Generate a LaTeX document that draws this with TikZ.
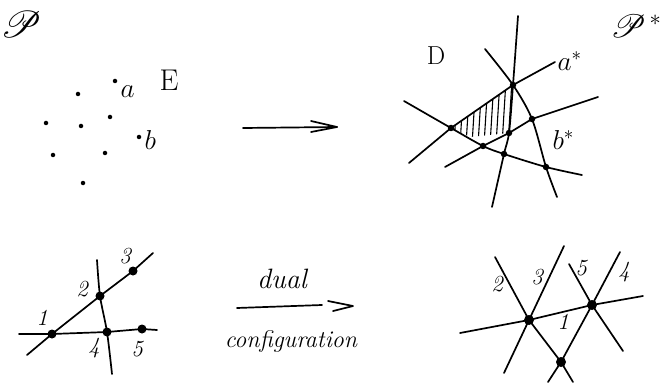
\documentclass[tikz,border=0pt]{standalone}
\usepackage{fontspec}
\usepackage{graphicx}
\usepackage{mathrsfs}
\begin{document}
\begin{tikzpicture}[x=1pt,y=-1pt,line cap=round,line join=round,
  pen/.style={line width=1.7pt},
  dot/.style={circle,fill,inner sep=0pt,minimum size=5pt},
  bigdot/.style={circle,fill,inner sep=0pt,minimum size=9pt},
  hand/.style={font=\fontsize{23}{23}\selectfont\itshape},
  big/.style={font=\fontsize{26}{26}\selectfont}]
  \useasboundingbox (0,0) rectangle (664,385);

  % point set E
  \node[big] (calP) at (21,24) {\scalebox{1.5}{$\mathscr{P}$}};
  \node[big,font=\fontsize{30}{30}\selectfont] (setE) at (169,80) {E};
  \foreach \x/\y [count=\i] in {115/81,78/94,46/123,81/126,110/117,139/137,53/155,105/153,83/183}
    \node[dot,minimum size=4.5pt] (e\i) at (\x,\y) {};
  \node[hand,anchor=west] (la) at (117,92) {\scalebox{1.1}{$a$}};
  \node[hand,anchor=west] (lb) at (141,140) {\scalebox{1.1}{$b$}};

  % arrow between them
  \coordinate (ta) at (243,128);
  \coordinate (tb) at (337,127);
  \draw[pen] (ta) -- (tb);
  \draw[pen] (311,121) -- (tb) -- (311,132);

  % dual arrangement
  \node[big] (calD) at (436,56) {D};
  \node[big] (calPs) at (636,26) {\scalebox{1.3}{$\mathscr{P}^{\,*}$}};
  \coordinate (A) at (451,128);
  \coordinate (T) at (513,85);
  \coordinate (R) at (532,119);
  \coordinate (M) at (509,133);
  \coordinate (L) at (483,146);
  \coordinate (N) at (504,154);
  \coordinate (S) at (546,167);
  \begin{scope}
    \clip (A) -- (T) -- (M) -- (470,137) -- cycle;
    \foreach \x in {456,462,...,516}
      \draw[line width=1.1pt] (\x+2,80) -- (\x-2,145);
  \end{scope}
  \draw[pen] plot[smooth] coordinates {(518,16) (T) (M) (N) (492,207)};
  \draw[pen] plot[smooth] coordinates {(485,49) (T) (R) (S) (557,197)};
  \draw[pen] (409,163) -- (A) -- (T) -- (555,62);
  \draw[pen] (445,167) -- (L) -- (M) -- (R) -- (598,97);
  \draw[pen] plot[smooth] coordinates {(404,101) (A) (L) (N) (S) (582,175)};
  \foreach \p in {A,T,R,M,L,N,S}
    \node[dot,minimum size=6.5pt] at (\p) {};
  \node[hand,anchor=west] (las) at (554,61) {\scalebox{1.1}{$a^{*}$}};
  \node[hand,anchor=west] (lbs) at (549,140) {\scalebox{1.1}{$b^{*}$}};

  % configuration of five points
  \node[bigdot] (p1) at (52,334) {};
  \node[bigdot] (p2) at (100,296) {};
  \node[bigdot] (p3) at (133,271) {};
  \node[bigdot] (p4) at (107,332) {};
  \node[bigdot] (p5) at (142,329) {};
  \coordinate (u1) at (27,355);
  \coordinate (u2) at (153,253);
  \coordinate (h1) at (19,334);
  \coordinate (h2) at (157,330);
  \coordinate (v1) at (97,260);
  \coordinate (v2) at (112,374);
  \draw[pen] (u1) -- (p1.center) -- (p2.center) -- (p3.center) -- (u2);
  \draw[pen] (h1) -- (p1.center) -- (p4.center) -- (p5.center) -- (h2);
  \draw[pen] plot[smooth] coordinates {(v1) (p2.center) (p4.center) (v2)};
  \node[hand] (n1) at (42,318) {1};
  \node[hand] (n2) at (82,289) {2};
  \node[hand] (n3) at (125,256) {3};
  \node[hand] (n4) at (94,348) {4};
  \node[hand] (n5) at (137,349) {5};

  % dual configuration arrow
  \node[hand,font=\fontsize{28}{28}\selectfont\itshape] (wdual) at (282,279) {dual};
  \node[hand,font=\fontsize{24}{24}\selectfont\itshape] (wconf) at (291,341) {configuration};
  \coordinate (ba) at (237,308);
  \coordinate (bb) at (322,305);
  \coordinate (bt) at (353,306);
  \draw[pen] (ba) -- (bb);
  \draw[pen] (328,301) -- (bt) -- (333,311);

  % dual of the five points
  \node[bigdot,minimum size=10pt] (q1) at (529,320) {};
  \node[bigdot,minimum size=10pt] (q2) at (592,305) {};
  \node[bigdot,minimum size=10pt] (q3) at (561,362) {};
  \coordinate (l1a) at (460,333);
  \coordinate (l1b) at (643,296);
  \coordinate (l2a) at (495,257);
  \coordinate (l2b) at (573,382);
  \coordinate (l3a) at (564,246);
  \coordinate (l3b) at (504,373);
  \coordinate (l5a) at (569,264);
  \coordinate (l5b) at (623,351);
  \coordinate (l4a) at (620,252);
  \coordinate (l4b) at (548,382);
  \draw[pen] (l1a) -- (q1.center) -- (q2.center) -- (l1b);
  \draw[pen] (l2a) -- (q1.center) -- (q3.center) -- (l2b);
  \draw[pen] (l3a) -- (q1.center) -- (l3b);
  \draw[pen] (l5a) -- (q2.center) -- (l5b);
  \draw[pen] (l4a) -- (q2.center) -- (q3.center) -- (l4b);
  \node[hand] (m2) at (497,284) {2};
  \node[hand] (m3) at (537,277) {3};
  \node[hand] (m5) at (581,268) {5};
  \node[hand] (m4) at (624,272) {4};
  \node[hand] (m1) at (563,322) {1};
\end{tikzpicture}
\end{document}
